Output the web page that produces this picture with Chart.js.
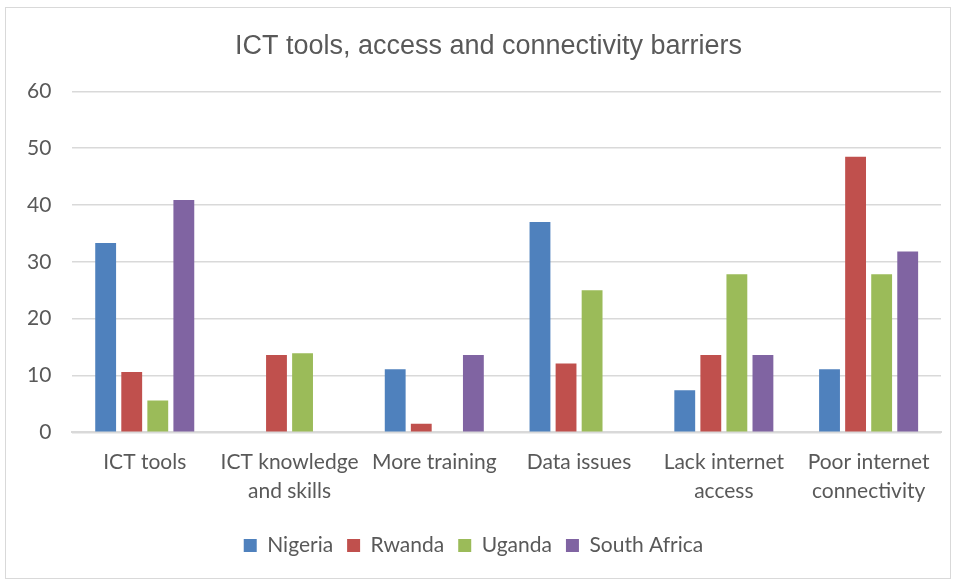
<!DOCTYPE html>
<html>
<head>
<meta charset="utf-8">
<script src="https://cdn.jsdelivr.net/npm/chart.js@4"></script>
<style>
  html, body { margin: 0; padding: 0; background: #fff; }
  #frame { position: absolute; left: 5px; top: 7px; width: 944px; height: 570px; border: 1px solid #d9d9d9; }
  #wrap { position: absolute; left: 0; top: 0; width: 957px; height: 582px; }
</style>
</head>
<body>
<div id="frame"></div>
<div id="wrap"><canvas id="barChart" width="957" height="582"></canvas></div>
<script>
const categories = [
  'ICT tools',
  ['ICT knowledge', 'and skills'],
  'More training',
  'Data issues',
  ['Lack internet', 'access'],
  ['Poor internet', 'connectivity']
];
const nigeria     = [33.3, 0, 11.1, 37.0, 7.4, 11.1];
const rwanda      = [10.6, 13.6, 1.5, 12.1, 13.6, 48.5];
const uganda      = [5.6, 13.9, 0, 25.0, 27.8, 27.8];
const southAfrica = [40.9, 0, 13.6, 0, 13.6, 31.8];
const yTicks = [0, 10, 20, 30, 40, 50, 60];

const grey = '#595959';
const tickFont = "Lato, 'Open Sans', sans-serif";
const titleFont = "'Liberation Sans', Arial, sans-serif";

// title sits a bit right of the canvas centre in the original
const shiftTitle = {
  id: 'shiftTitle',
  afterLayout(chart) {
    if (chart.titleBlock) { chart.titleBlock.left += 15; chart.titleBlock.right += 15; }
  }
};

const ctx = document.getElementById('barChart').getContext('2d');
new Chart(ctx, {
  type: 'bar',
  data: {
    labels: categories,
    datasets: [
      { label: 'Nigeria', data: nigeria, backgroundColor: '#4f81bd' },
      { label: 'Rwanda', data: rwanda, backgroundColor: '#c0504d' },
      { label: 'Uganda', data: uganda, backgroundColor: '#9bbb59' },
      { label: 'South Africa', data: southAfrica, backgroundColor: '#8064a2' }
    ]
  },
  options: {
    responsive: false,
    animation: false,
    layout: { padding: { left: 6, right: 16, top: 26, bottom: 16 } },
    datasets: { bar: { barPercentage: 0.8, categoryPercentage: 0.72 } },
    plugins: {
      title: {
        display: true,
        text: 'ICT tools, access and connectivity barriers',
        color: grey,
        font: { family: titleFont, size: 27, weight: 'normal' },
        padding: { top: 4, bottom: 29 }
      },
      legend: {
        position: 'bottom',
        labels: {
          color: grey,
          font: { family: tickFont, size: 21 },
          boxWidth: 13,
          boxHeight: 13,
          padding: 14
        }
      },
      tooltip: { enabled: false }
    },
    scales: {
      x: {
        grid: { display: false },
        border: { color: '#d9d9d9', width: 2 },
        ticks: { color: grey, font: { family: tickFont, size: 21, lineHeight: 1.35 }, maxRotation: 0, autoSkip: false, padding: 8 },
        afterFit: scale => { scale.height += 8; }
      },
      y: {
        min: 0,
        max: 60,
        afterBuildTicks: axis => { axis.ticks = yTicks.map(v => ({ value: v })); },
        grid: { color: '#d9d9d9', lineWidth: 1.5, drawTicks: false },
        border: { display: false },
        ticks: { color: grey, font: { family: tickFont, size: 21 }, padding: 21 }
      }
    }
  },
  plugins: [shiftTitle]
});
</script>
</body>
</html>
